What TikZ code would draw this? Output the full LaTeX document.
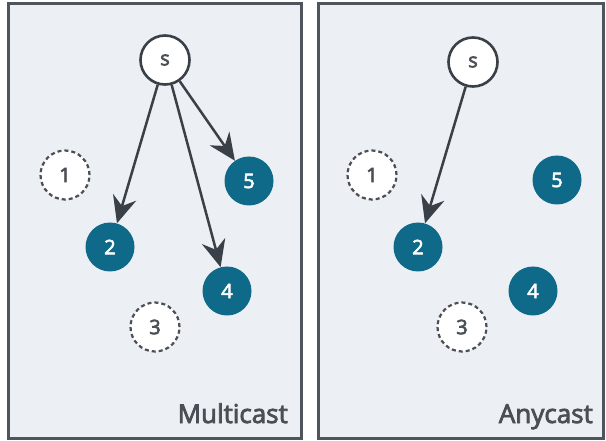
\documentclass[tikz,border=0pt]{standalone}
\usepackage{fontspec}
\setmainfont{Open Sans}
\newfontfamily\semib{Open Sans}[FakeBold=3]
\usetikzlibrary{arrows.meta}
\definecolor{panelbg}{HTML}{ECEFF4}
\definecolor{panelline}{HTML}{4F555C}
\definecolor{teal}{HTML}{0F6A8A}
\definecolor{arrowc}{HTML}{3A4047}
\definecolor{textc}{HTML}{4A4F55}
\tikzset{
  panel/.style={draw=panelline, fill=panelbg, line width=3pt},
  nd/.style={circle, minimum size=49pt, inner sep=0pt, font=\semib\fontsize{20}{20}\selectfont},
  srcnode/.style={nd, draw=arrowc, fill=white, line width=2.6pt, text=textc},
  idle/.style={nd, draw=textc, fill=white, line width=2.2pt, dash pattern=on 4pt off 3pt, text=textc},
  dest/.style={nd, draw=none, fill=teal, text=white},
  conn/.style={draw=arrowc, line width=2.5pt, -{Stealth[length=27pt 0,width=24pt 0,inset=9pt 0]}},
  title/.style={anchor=base east, font=\semib\fontsize{26}{26}\selectfont, text=textc, inner sep=0pt}
}
\begin{document}
\begin{tikzpicture}[x=1pt,y=-1pt]
\useasboundingbox[fill=white] (0,0) rectangle (606,441);
% panels
\path[panel] (8,4) rectangle (301,438);
\path[panel] (318,4) rectangle (603,438);
% left panel: Multicast
\node[srcnode] (ls) at (165,60) {s};
\node[idle] (l1) at (65,175) {1};
\node[dest] (l5) at (249,181) {5};
\node[dest] (l2) at (110,247) {2};
\node[dest] (l4) at (227,291) {4};
\node[idle] (l3) at (155,327) {3};
\node[title] (lt) at (288,423) {Multicast};
\draw[conn] (ls) -- (l2);
\draw[conn] (ls) -- (l4);
\draw[conn] (ls) -- (l5);
% right panel: Anycast
\node[srcnode] (rs) at (473,62) {s};
\node[idle] (r1) at (372,175) {1};
\node[dest] (r5) at (557,180) {5};
\node[dest] (r2) at (418,247) {2};
\node[dest] (r4) at (533,291) {4};
\node[idle] (r3) at (462,327) {3};
\node[title] (rt) at (593,423) {Anycast};
\draw[conn] (rs) -- (r2);
\end{tikzpicture}
\end{document}
